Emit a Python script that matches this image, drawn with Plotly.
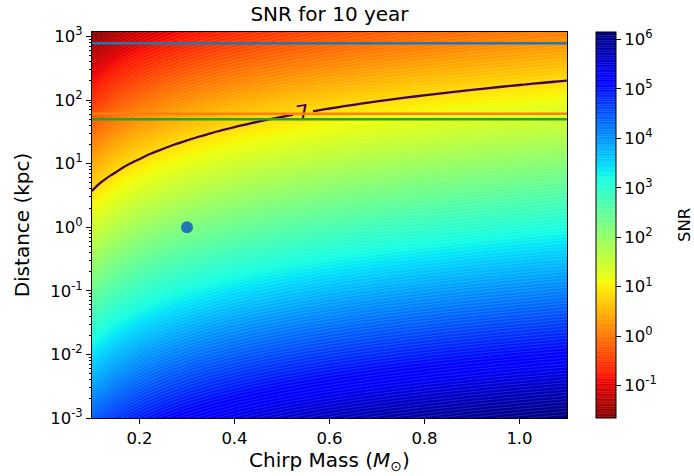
import numpy as np
import plotly.graph_objects as go

# ---- data ----
chirp_mass = [0.10, 0.15, 0.20, 0.25, 0.30, 0.35, 0.40, 0.45, 0.50, 0.55, 0.60,
              0.65, 0.70, 0.75, 0.80, 0.85, 0.90, 0.95, 1.00, 1.05, 1.10]
# SNR at a distance of 1 kpc for each chirp mass (SNR scales as 1/distance)
snr_at_1kpc = [26.0, 51.0, 82.5, 119.7, 162.0, 209.6, 262.0, 318.8, 380.0, 445.0, 515.0,
               588.0, 666.0, 746.0, 831.0, 920.0, 1012.0, 1107.0, 1206.0, 1308.0, 1413.0]
distance_min_kpc = 1e-3
distance_max_kpc = 1175.0
snr_threshold = 7
# reference distances (kpc) drawn as horizontal lines
ref_distances = [780.0, 61.0, 50.0]
ref_colors = ["#1f77b4", "#ff7f0e", "#2ca02c"]
# highlighted source
point_mass = [0.3]
point_distance = [1.0]
cbar_exponents = [-1, 0, 1, 2, 3, 4, 5, 6]
y_exponents = [-3, -2, -1, 0, 1, 2, 3]
x_ticks = [0.2, 0.4, 0.6, 0.8, 1.0]

# ---- grid ----
logd = np.linspace(np.log10(distance_min_kpc), np.log10(distance_max_kpc), 141)
log_snr1 = np.log10(np.array(snr_at_1kpc))
Z = log_snr1[None, :] - logd[:, None]          # log10 SNR, rows = distance
zmin, zmax = float(Z.min()), float(Z.max())

# jet_r colorscale
jet_pts = [
    (0.0, (0, 0, 128)), (0.11, (0, 0, 255)), (0.125, (0, 0, 255)),
    (0.34, (0, 219, 255)), (0.35, (0, 230, 247)), (0.375, (21, 255, 226)),
    (0.64, (239, 255, 8)), (0.65, (247, 245, 0)), (0.66, (255, 236, 0)),
    (0.89, (255, 19, 0)), (0.91, (232, 0, 0)), (1.0, (128, 0, 0)),
]
jet_r = sorted([[round(1 - t, 4), "rgb(%d,%d,%d)" % c] for t, c in jet_pts])

FONT = "DejaVu Sans"
fs = 16.5

L, R, T, B = 92, 694 - 567, 32, 476 - 418
W, H = 694, 476
pw = W - L - R

fig = go.Figure()
fig.add_trace(go.Contour(
    x=chirp_mass, y=logd, z=Z,
    colorscale=jet_r, zmin=zmin, zmax=zmax, zauto=False,
    contours=dict(coloring="fill", start=zmin, end=zmax - 0.02, size=0.05),
    line=dict(width=0.6, color="rgba(255,255,255,0.22)"),
    colorbar=dict(
        x=(596 - L) / pw, xanchor="left", xpad=0, y=0.5, yanchor="middle", len=1,
        lenmode="fraction", ypad=0, thickness=20, outlinewidth=1, outlinecolor="black",
        tickmode="array", tickvals=cbar_exponents,
        ticktext=["10<sup>%d</sup>" % e for e in cbar_exponents],
        ticks="outside", ticklen=5, tickcolor="black",
        tickfont=dict(family=FONT, size=fs, color="black"),
    ),
    hoverinfo="skip",
))

fig.add_trace(go.Contour(
    x=chirp_mass, y=logd, z=10 ** Z,
    contours=dict(coloring="none", start=snr_threshold, end=snr_threshold, size=1,
                  showlabels=True, labelfont=dict(family=FONT, size=21, color="#440154")),
    line=dict(color="#440154", width=2.3),
    showscale=False, hoverinfo="skip",
))

for d, c in zip(ref_distances, ref_colors):
    fig.add_shape(type="line", xref="paper", x0=0, x1=1, yref="y",
                  y0=np.log10(d), y1=np.log10(d), line=dict(color=c, width=2.6))

fig.add_trace(go.Scatter(
    x=point_mass, y=np.log10(point_distance), mode="markers",
    marker=dict(size=12, color="#1f77b4"), showlegend=False, hoverinfo="skip",
))

fig.add_annotation(text="SNR", xref="paper", yref="paper", x=(684 - L) / pw, y=0.5,
                   xanchor="center", yanchor="middle", textangle=-90, showarrow=False,
                   font=dict(family=FONT, size=fs, color="black"))

minor_vals = [e + np.log10(k) for e in range(-3, 3) for k in range(2, 10)]
minor_vals += [3 + np.log10(k) for k in range(2, 10) if 3 + np.log10(k) <= np.log10(distance_max_kpc)]

fig.update_layout(
    width=W, height=H,
    margin=dict(l=L, r=R, t=T, b=B, autoexpand=False),
    paper_bgcolor="white", plot_bgcolor="white",
    font=dict(family=FONT, size=fs, color="black"),
    title=dict(text="SNR for 10 year", x=(L + pw / 2) / W, xanchor="center",
               y=1 - 14 / H, yanchor="middle", automargin=False,
               font=dict(family=FONT, size=20, color="black")),
    showlegend=False,
)
fig.update_xaxes(
    range=[chirp_mass[0], chirp_mass[-1]], tickmode="array", tickvals=x_ticks,
    ticktext=["%.1f" % v for v in x_ticks], automargin=False,
    ticks="outside", ticklen=5, tickcolor="black", showgrid=False, zeroline=False,
    showline=True, linecolor="black", linewidth=1, mirror=True,
    title=dict(text="Chirp Mass (<i>M</i><sub>⊙</sub>)", standoff=1),
    tickfont=dict(family=FONT, size=fs),
)
fig.update_yaxes(
    range=[np.log10(distance_min_kpc), np.log10(distance_max_kpc)],
    tickmode="array", tickvals=y_exponents, automargin=False,
    ticktext=["10<sup>%d</sup>" % e for e in y_exponents],
    ticks="outside", ticklen=5, tickcolor="black", showgrid=False, zeroline=False,
    showline=True, linecolor="black", linewidth=1, mirror=True,
    minor=dict(tickmode="array", tickvals=minor_vals, ticks="outside", ticklen=2.5,
               tickcolor="black", showgrid=False),
    title=dict(text="Distance (kpc)", standoff=15),
    tickfont=dict(family=FONT, size=fs),
)

fig.write_html("out.html",
               config={"displayModeBar": False},
               post_script="document.body.style.margin='0px';"
                           "document.body.style.overflow='hidden';")
